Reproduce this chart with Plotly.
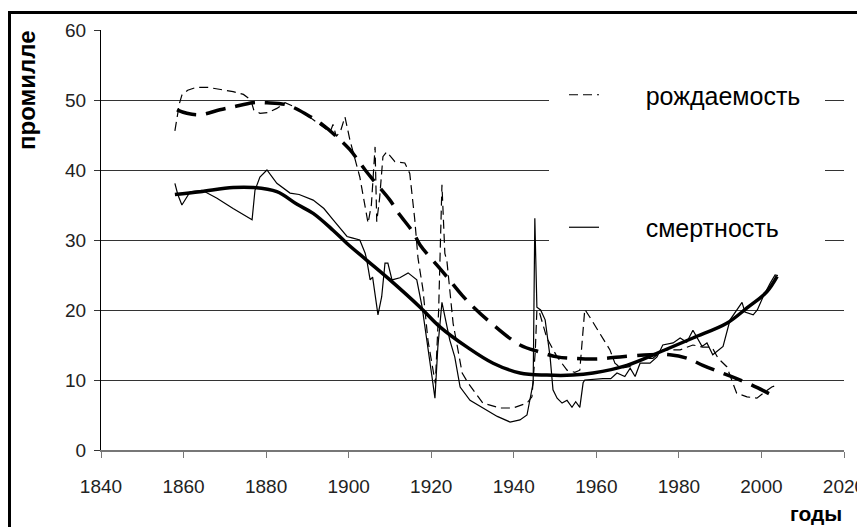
import plotly.graph_objects as go

# ---------------- data ----------------
birth_years = [1857.9, 1859.0, 1859.6, 1861, 1863, 1866, 1869, 1872, 1874.5, 1876.3, 1877.0, 1878.5,
               1880.5, 1882.6, 1884.6, 1887, 1890, 1893.5, 1895.5, 1896.2, 1897, 1898, 1899.1, 1900.3,
               1902.7, 1904.7, 1905.5, 1906.4, 1906.8, 1907.5, 1908.3, 1909.2, 1911.2, 1913.6, 1914.8,
               1916, 1916.8, 1918, 1919.2, 1921, 1921.8, 1922.6, 1923.3, 1923.8, 1925.3, 1927.5, 1928.9,
               1932.5, 1936.7, 1939.8, 1943.2, 1944.4, 1945.2, 1945.6, 1946.3, 1948, 1950.5, 1952.9,
               1954.8, 1956, 1957.2, 1958.4, 1960.9, 1963.3, 1964.5, 1966, 1968, 1969.8, 1972.3, 1973.7,
               1976.1, 1980.3, 1983.4, 1985.8, 1988, 1989.5, 1991.6, 1993.1, 1994, 1996.5, 1998.9,
               2000.4, 2002.5, 2004]
birth_values = [45.6, 49.5, 50.7, 51.4, 51.8, 51.8, 51.5, 51.2, 50.8, 50.0, 48.6, 48.1,
                48.2, 48.8, 49.6, 49.0, 47.8, 46.3, 45.4, 46.5, 44.8, 45.5, 47.6, 44.3,
                39.0, 32.4, 35.0, 43.3, 32.6, 36.0, 41.9, 42.6, 41.2, 41.0, 39.5,
                33.0, 27.4, 22.9, 15.7, 9.5, 20.0, 37.9, 28.1, 27.0, 18.1, 11.0, 9.6,
                6.7, 6.0, 6.0, 6.7, 7.6, 14.0, 20.0, 19.5, 16.0, 13.3, 11.4,
                11.1, 11.4, 20.1, 19.0, 16.7, 14.3, 12.4, 11.7, 11.9, 12.6, 13.1, 13.1,
                14.3, 14.3, 15.0, 14.7, 14.7, 13.1, 11.9, 9.6, 8.1, 7.6, 7.4,
                8.1, 9.0, 9.3]

birth_trend_years = [1858.4, 1860.8, 1864, 1868.8, 1872, 1876.8, 1880.2, 1885, 1889.9, 1893.8, 1897.4,
                     1900.3, 1904, 1905.9, 1910, 1912, 1915.6, 1917.3, 1921.4, 1924, 1927.5, 1930.1,
                     1934.2, 1941.5, 1946.3, 1950.5, 1954.3, 1960, 1965.7, 1973, 1977.8, 1982, 1985.8,
                     1990, 1994, 1999, 2003.3]
birth_trend_values = [48.6, 48.1, 47.9, 48.6, 49.0, 49.6, 49.6, 49.3, 47.9, 46.4, 44.6,
                      42.9, 40.0, 38.6, 35.7, 33.9, 31.1, 29.3, 26.4, 24.6, 22.1, 20.5,
                      18.3, 15.0, 14.0, 13.3, 13.1, 13.0, 13.3, 13.6, 13.6, 13.1, 12.1,
                      11.1, 10.2, 8.9, 7.6]

death_years = [1857.9, 1858.6, 1859.6, 1861.6, 1864.5, 1868, 1872, 1876.6, 1877.3, 1878.5, 1880.2,
               1882.6, 1885.8, 1888, 1891.4, 1894, 1896.2, 1899.6, 1900.8, 1902.7, 1904, 1904.4,
               1905.2, 1905.8, 1907.1, 1908, 1908.8, 1909.5, 1910.5, 1912.4, 1914.4, 1916.5, 1917.8,
               1919, 1920.2, 1920.9, 1921.6, 1922.6, 1923.3, 1924.5, 1925.7, 1927, 1929.4, 1933.5,
               1936, 1939.1, 1941.5, 1943.2, 1944.7, 1945.1, 1945.6, 1946.5, 1947.6, 1948.8, 1949.5,
               1950.5, 1951.7, 1952.9, 1954.1, 1955, 1956, 1956.8, 1957.2, 1961.6, 1963.5, 1965,
               1966.9, 1968.2, 1969.4, 1970.6, 1973, 1974.7, 1976.1, 1978.6, 1980.3, 1981.9, 1983.4,
               1985.6, 1986.8, 1988.2, 1990.7, 1992.4, 1994, 1995.3, 1996, 1998, 1999, 2000.4,
               2002.1, 2003.3, 2004]
death_values = [38.1, 36.5, 35.0, 36.9, 37.1, 36.0, 34.5, 32.9, 37.1, 39.0, 40.0,
                38.1, 36.7, 36.5, 35.7, 34.5, 32.9, 30.5, 30.3, 30.0, 28.1, 27.1,
                24.3, 24.7, 19.3, 21.9, 26.7, 26.7, 24.3, 24.6, 25.3, 24.3, 20.4,
                15.7, 10.4, 7.4, 14.7, 21.1, 19.0, 15.7, 13.3, 9.0, 7.1, 5.7,
                4.8, 4.0, 4.3, 5.0, 9.6, 33.1, 20.4, 20.0, 18.6, 13.3, 8.6,
                7.4, 6.7, 7.1, 6.1, 6.9, 6.1, 9.6, 10.0, 10.2, 10.2, 11.0,
                10.5, 11.7, 10.5, 12.4, 12.4, 13.3, 15.0, 15.3, 16.0, 15.4, 17.1,
                14.8, 15.3, 13.6, 14.8, 18.6, 20.0, 21.1, 19.7, 19.3, 20.0, 21.9,
                23.8, 25.0, 24.9]

death_trend_years = [1857.9, 1864, 1872, 1876.8, 1882.6, 1887.5, 1891.4, 1896.2, 1899.6, 1904.4, 1910,
                     1917.3, 1922.1, 1928.7, 1935, 1941.5, 1948, 1954.3, 1959.2, 1967.4, 1975.4,
                     1983.4, 1991.6, 1996.5, 2001.3, 2003.8]
death_trend_values = [36.5, 36.9, 37.5, 37.5, 36.9, 35.1, 33.8, 31.4, 29.5, 27.1, 24.3,
                      20.4, 17.6, 14.7, 12.4, 11.0, 10.7, 10.7, 11.0, 12.1, 14.0,
                      16.0, 18.1, 20.3, 22.6, 24.8]

x_ticks = [1840, 1860, 1880, 1900, 1920, 1940, 1960, 1980, 2000, 2020]
y_ticks = [0, 10, 20, 30, 40, 50, 60]
birth_label = "рождаемость"
death_label = "смертность"
y_title = "промилле"
x_title = "годы"

FONT = "Liberation Sans, Arial, sans-serif"
pad = "\u00a0" * 6

fig = go.Figure()
fig.add_trace(go.Scatter(x=birth_years, y=birth_values, mode="lines", name=pad + birth_label,
                         legendgroup="b", line=dict(color="black", width=1.2, dash="9px,5px")))
fig.add_trace(go.Scatter(x=birth_trend_years, y=birth_trend_values, mode="lines", showlegend=False,
                         line=dict(color="black", width=3.5, dash="20px,10px", shape="spline")))
fig.add_trace(go.Scatter(x=death_years, y=death_values, mode="lines", name=pad + death_label,
                         legendgroup="d", line=dict(color="black", width=1.2)))
fig.add_trace(go.Scatter(x=death_trend_years, y=death_trend_values, mode="lines", showlegend=False,
                         line=dict(color="black", width=3.5, shape="spline")))

# page body has an 8px margin: figure is placed at (8, 8); paper = whole figure
W, H = 857, 519
L, R, T, B = 93, 21, 22, 77


def px(x):  # reference-image pixel -> paper x
    return (x - 8) / W


def py(y):  # reference-image pixel -> paper y
    return 1 - (y - 8) / H


fig.update_layout(
    width=W, height=H,
    margin=dict(l=0, r=0, t=0, b=0, pad=0, autoexpand=False),
    plot_bgcolor="white", paper_bgcolor="white",
    font=dict(family=FONT, color="black", size=19),
    xaxis=dict(domain=[L / W, 1 - R / W], range=[1840, 2020], tickvals=x_ticks, ticks="outside",
               ticklen=6, tickcolor="#777", showline=True, linecolor="#777", linewidth=1.5,
               showgrid=False, zeroline=False, ticklabelstandoff=12, automargin=False,
               ticklabeloverflow="allow", tickfont=dict(size=19, color="#222")),
    yaxis=dict(domain=[B / H, 1 - T / H], range=[0, 60], tickvals=y_ticks, ticks="outside",
               ticklen=6, tickcolor="#333", showline=True, linecolor="black", linewidth=1,
               showgrid=True, gridcolor="#333", gridwidth=1, zeroline=False, automargin=False,
               ticklabelstandoff=4, tickfont=dict(size=19, color="#222")),
    legend=dict(x=px(564), y=py(72), xanchor="left", yanchor="top",
                bgcolor="rgba(0,0,0,0)", font=dict(size=25, family=FONT),
                tracegroupgap=97, traceorder="grouped"),
    shapes=[
        # white box behind the legend, hiding the gridlines there (no data lies in this box)
        dict(type="rect", xref="paper", yref="paper", x0=px(549), x1=px(825), y0=py(258), y1=py(62),
             fillcolor="white", line=dict(width=0), layer="above"),
        # outer frame of the picture: left and top edges
        dict(type="line", xref="paper", yref="paper", x0=px(9.5), x1=px(9.5), y0=py(11), y1=0,
             line=dict(color="black", width=3), layer="above"),
        dict(type="line", xref="paper", yref="paper", x0=px(8), x1=1, y0=py(12.5), y1=py(12.5),
             line=dict(color="black", width=3), layer="above"),
    ],
    annotations=[
        dict(text="<b>" + y_title + "</b>", xref="paper", yref="paper", x=px(26), y=py(90), textangle=-90,
             showarrow=False, font=dict(size=24, family=FONT, color="black"), xanchor="center", yanchor="middle"),
        dict(text="<b>" + x_title + "</b>", xref="paper", yref="paper", x=px(844), y=py(513),
             showarrow=False, font=dict(size=21, family=FONT, color="black"), xanchor="right", yanchor="middle"),
    ],
)

fig.write_html("out.html")
